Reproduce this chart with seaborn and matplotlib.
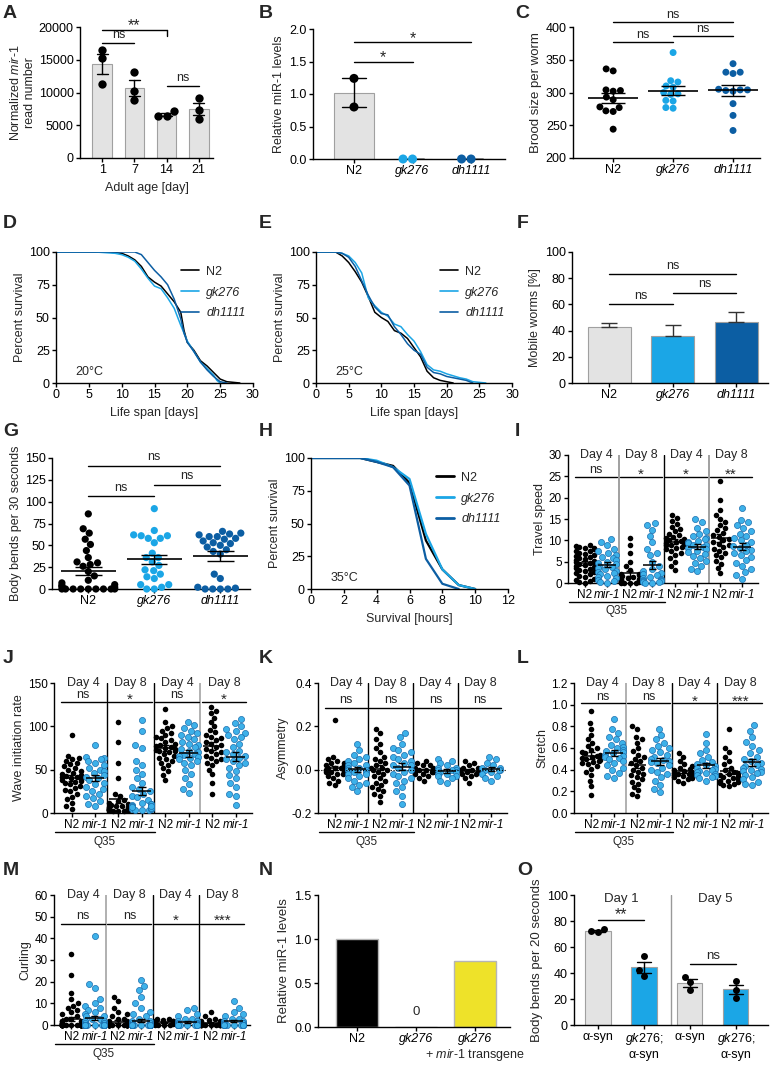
import matplotlib
matplotlib.use('Agg')
import matplotlib.pyplot as plt
import matplotlib.transforms as mtrans
from matplotlib import font_manager
from matplotlib.lines import Line2D
import numpy as np
import pandas as pd
import seaborn as sns

# ---------------- data ----------------
# A - mir-1 reads with age
age_days = ['1', '7', '14', '21']
reads_d1 = [16500, 15200, 11300]
reads_d7 = [13100, 10200, 8800]
reads_d14 = [6400, 7100, 6400]
reads_d21 = [6000, 9200, 7300]

# B - relative miR-1 levels
strains = ['N2', 'gk276', 'dh1111']
mir1_n2 = [1.24, 0.80]
mir1_gk = [0.0, 0.0]
mir1_dh = [0.0, 0.0]

# C - brood size
brood_n2 = [333, 336, 304, 303, 302, 293, 289, 278, 277, 272, 271, 244]
brood_gk = [361, 318, 316, 310, 308, 300, 298, 297, 288, 287, 277, 276]
brood_dh = [344, 331, 331, 329, 305, 304, 304, 303, 302, 283, 265, 242]

# D - life span 20C
ls20_n2_day = [0, 8, 10, 11, 12, 13, 14, 15, 16, 17, 18, 19, 19.5, 20, 21, 22, 23, 24, 25, 26, 28]
ls20_n2_pct = [100, 100, 99, 97, 94, 89, 81, 77, 74, 68, 62, 54, 40, 31, 25, 17, 13, 8, 3, 1, 0]
ls20_gk_day = [0, 6, 9, 10, 11, 12, 13, 14, 15, 16, 17, 18, 19, 20, 21, 22, 23, 24, 24.5, 25]
ls20_gk_pct = [100, 100, 99, 98, 96, 93, 87, 80, 74, 72, 65, 57, 44, 32, 24, 16, 11, 6, 2, 0]
ls20_dh_day = [0, 12, 13, 14, 15, 16, 17, 18, 19, 19.5, 20, 21, 22, 23, 24, 25, 26]
ls20_dh_pct = [100, 100, 98, 92, 86, 81, 75, 64, 49, 38, 31, 24, 16, 10, 5, 1, 0]

# E - life span 25C
ls25_n2_day = [0, 3, 4, 5, 6, 7, 8, 9, 10, 11, 12, 13, 14, 15, 16, 17, 18, 19, 20, 21]
ls25_n2_pct = [100, 100, 97, 92, 85, 77, 66, 54, 50, 47, 40, 38, 34, 27, 20, 9, 4, 2, 1, 0]
ls25_gk_day = [0, 3, 4, 5, 6, 7, 8, 9, 10, 11, 12, 13, 14, 15, 16, 17, 18, 19, 20, 22, 23, 24, 26]
ls25_gk_pct = [100, 100, 99, 97, 92, 84, 65, 59, 54, 51, 45, 43, 37, 32, 24, 14, 10, 9, 7, 4, 3, 1, 0]
ls25_dh_day = [0, 3, 4, 5, 6, 7, 8, 9, 10, 11, 12, 13, 14, 15, 16, 17, 18, 19, 20, 22, 23, 24]
ls25_dh_pct = [100, 100, 99, 96, 89, 78, 67, 58, 53, 52, 43, 37, 30, 25, 22, 12, 8, 7, 5, 3, 2, 0]

# F - mobile worms
mobile_mean = [43, 35.5, 46.5]
mobile_sem = [2.5, 8.5, 8.0]

# G - body bends per 30 s
bends_n2 = [86, 69, 64, 57, 51, 44, 36, 31, 30, 28, 26, 20, 15, 10, 7, 5, 4, 3, 2,
            0, 0, 0, 0, 0, 0, 0, 0, 0]
bends_gk = [92, 67, 62, 61, 61, 58, 58, 53, 41, 36, 36, 31, 27, 22, 21, 17, 14, 12, 5, 5, 2, 0, 0]
bends_dh = [66, 64, 63, 62, 60, 60, 58, 57, 55, 53, 52, 50, 48, 45, 43, 40, 17, 12, 2, 1, 0, 0, 0, 0]

# H - heat stress 35C
hs_n2_h = [0, 3, 4, 5, 6, 7, 8, 9, 10]
hs_n2_pct = [100, 100, 97, 94, 81, 37, 15, 3, 0]
hs_gk_h = [0, 3, 4, 5, 6, 7, 8, 9, 10]
hs_gk_pct = [100, 100, 98, 93, 84, 42, 15, 3, 0]
hs_dh_h = [0, 3, 4, 5, 6, 7, 8, 9]
hs_dh_pct = [100, 100, 97, 93, 79, 23, 4, 0]

# I-M: groups = Q35 day4 N2, Q35 day4 mir-1, Q35 day8 N2, Q35 day8 mir-1,
#               day4 N2, day4 mir-1, day8 N2, day8 mir-1
speed = [
    [8.8, 8.6, 8.5, 8.3, 8.1, 7.9, 7.6, 7.4, 7.1, 6.9, 6.6, 6.3, 6.1, 5.8, 5.6, 5.4, 5.2, 5.0, 4.8,
     4.6, 4.4, 4.2, 4.0, 3.8, 3.6, 3.3, 3.1, 2.9, 2.6, 2.3, 2.0, 1.7, 1.4, 1.0, 0.7, 0.4, 0.2, 0.0],
    [10.2, 9.6, 8.8, 8.0, 7.5, 7.0, 6.6, 6.2, 5.8, 5.4, 5.0, 4.7, 4.4, 4.1, 3.8, 3.5, 3.2, 2.9,
     2.6, 2.3, 2.0, 1.7, 1.4, 1.1, 0.8, 0.5, 0.3, 0.1],
    [10.5, 9.0, 7.0, 5.0, 4.0, 3.0, 2.2, 2.0, 1.8, 1.6, 1.4, 1.2, 1.0, 0.9, 0.8, 0.6, 0.5, 0.4,
     0.3, 0.2, 0.1, 0.1, 0.0, 0.0],
    [14.0, 13.5, 12.5, 11.0, 9.5, 8.0, 7.0, 6.5, 5.0, 4.0, 3.2, 2.8, 2.4, 2.0, 1.8, 1.5, 1.2, 1.0,
     0.8, 0.6, 0.5, 0.4, 0.3, 0.2, 0.1, 0.0],
    [16.0, 15.2, 14.5, 13.8, 13.2, 12.6, 12.1, 11.6, 11.2, 10.8, 10.5, 10.2, 10.0, 9.8, 9.6, 9.4,
     9.2, 9.0, 8.8, 8.5, 8.2, 7.9, 7.5, 7.0, 6.5, 5.8, 5.0, 4.0, 3.0],
    [15.0, 14.2, 13.0, 12.2, 11.5, 11.0, 10.6, 10.2, 9.9, 9.6, 9.3, 9.0, 8.8, 8.5, 8.2, 7.9, 7.6,
     7.2, 6.8, 6.3, 5.8, 5.2, 4.6, 4.0, 3.3, 2.7],
    [24.0, 19.5, 17.0, 16.0, 15.0, 14.3, 13.6, 13.0, 12.4, 11.8, 11.2, 10.8, 10.4, 10.0, 9.6, 9.2,
     8.8, 8.4, 8.0, 7.5, 7.0, 6.5, 6.0, 5.2, 4.5, 3.5, 2.3],
    [17.5, 14.8, 14.2, 13.6, 13.0, 12.3, 11.6, 11.0, 10.5, 10.0, 9.5, 9.0, 8.6, 8.2, 7.8, 7.4, 7.0,
     6.5, 6.0, 5.4, 4.8, 4.0, 3.2, 2.5, 1.8, 1.0],
]
wave = [
    [90, 66, 64, 62, 60, 58, 56, 54, 52, 50, 48, 46, 45, 44, 43, 42, 41, 40, 39, 38, 37, 36, 35,
     33, 31, 29, 27, 25, 22, 19, 16, 12, 8, 5],
    [78, 65, 63, 62, 60, 58, 55, 52, 50, 48, 46, 44, 42, 40, 38, 35, 33, 30, 28, 25, 22, 20, 17,
     14, 10, 8],
    [105, 82, 58, 40, 22, 20, 15, 14, 12, 10, 9, 8, 8, 7, 7, 6, 6, 5, 5, 5, 4, 4, 3, 3, 2, 3, 2,
     2, 4, 5],
    [107, 95, 78, 75, 60, 55, 50, 45, 40, 35, 30, 28, 25, 22, 20, 18, 15, 12, 10, 10, 9, 8, 8, 7,
     7, 6, 6, 5, 5, 4, 3, 4, 5, 6, 7, 8],
    [120, 105, 100, 98, 95, 92, 90, 88, 86, 84, 82, 80, 78, 77, 76, 75, 74, 73, 72, 71, 70, 68,
     66, 64, 62, 60, 58, 55, 52, 48, 44, 38],
    [105, 102, 98, 95, 92, 90, 88, 85, 82, 80, 78, 76, 74, 72, 70, 68, 67, 66, 65, 63, 62, 60,
     58, 55, 50, 45, 40, 33, 28, 23],
    [122, 118, 115, 110, 105, 100, 96, 93, 90, 88, 86, 84, 82, 80, 78, 76, 74, 72, 70, 68, 66,
     64, 62, 60, 58, 55, 50, 45, 35, 22],
    [108, 104, 100, 97, 95, 92, 90, 88, 85, 80, 76, 72, 70, 68, 66, 64, 62, 60, 58, 55, 52, 48,
     44, 40, 35, 30, 22, 20, 9],
]
asym = [
    [0.23, 0.06, 0.05, 0.04, 0.03, 0.03, 0.02, 0.02, 0.01, 0.01, 0.01, 0.0, 0.0, 0.0, 0.0, -0.01,
     -0.01, -0.01, -0.02, -0.02, -0.03, -0.04, -0.05, -0.06, -0.07],
    [0.12, 0.09, 0.07, 0.06, 0.05, 0.04, 0.03, 0.02, 0.02, 0.01, 0.01, 0.0, 0.0, 0.0, -0.01,
     -0.01, -0.02, -0.02, -0.03, -0.04, -0.05, -0.06, -0.07, -0.08, -0.10],
    [0.19, 0.17, 0.14, 0.12, 0.10, 0.08, 0.06, 0.05, 0.04, 0.03, 0.02, 0.01, 0.01, 0.0, 0.0,
     -0.01, -0.02, -0.03, -0.04, -0.05, -0.06, -0.07, -0.08, -0.09, -0.10, -0.11, -0.12, -0.15],
    [0.17, 0.15, 0.12, 0.10, 0.09, 0.08, 0.07, 0.06, 0.05, 0.04, 0.03, 0.02, 0.02, 0.01, 0.0,
     -0.01, -0.02, -0.03, -0.04, -0.05, -0.06, -0.08, -0.10, -0.12, -0.16],
    [0.04, 0.03, 0.02, 0.02, 0.01, 0.01, 0.0, 0.0, 0.0, 0.0, -0.01, -0.01, -0.01, -0.02, -0.02,
     -0.03, -0.04, -0.05],
    [0.05, 0.04, 0.03, 0.02, 0.01, 0.01, 0.0, 0.0, 0.0, -0.01, -0.01, -0.02, -0.02, -0.03, -0.03,
     -0.04, -0.05, -0.06],
    [0.04, 0.03, 0.02, 0.01, 0.01, 0.0, 0.0, 0.0, -0.01, -0.01, -0.02, -0.02, -0.03, -0.04, -0.06],
    [0.06, 0.05, 0.03, 0.02, 0.01, 0.01, 0.0, 0.0, 0.0, -0.01, -0.02, -0.03, -0.04, -0.05],
]
stretch = [
    [0.94, 0.83, 0.78, 0.72, 0.68, 0.65, 0.62, 0.60, 0.58, 0.56, 0.55, 0.54, 0.53, 0.52, 0.51,
     0.50, 0.49, 0.48, 0.47, 0.46, 0.45, 0.43, 0.41, 0.38, 0.35, 0.30, 0.25, 0.17],
    [0.87, 0.78, 0.74, 0.70, 0.68, 0.65, 0.63, 0.61, 0.60, 0.58, 0.57, 0.56, 0.55, 0.54, 0.53,
     0.52, 0.51, 0.50, 0.48, 0.46, 0.44, 0.42, 0.40, 0.37, 0.34, 0.32],
    [0.80, 0.78, 0.70, 0.68, 0.65, 0.60, 0.57, 0.54, 0.52, 0.50, 0.48, 0.46, 0.44, 0.42, 0.40,
     0.38, 0.36, 0.35, 0.33, 0.31, 0.29, 0.27, 0.24, 0.21, 0.18, 0.16],
    [0.78, 0.72, 0.68, 0.65, 0.62, 0.60, 0.58, 0.56, 0.54, 0.52, 0.50, 0.49, 0.48, 0.47, 0.46,
     0.44, 0.42, 0.40, 0.38, 0.36, 0.33, 0.30, 0.26, 0.22, 0.19],
    [0.55, 0.52, 0.48, 0.45, 0.43, 0.42, 0.41, 0.40, 0.39, 0.38, 0.37, 0.37, 0.36, 0.36, 0.35,
     0.35, 0.34, 0.33, 0.32, 0.31, 0.30, 0.28],
    [0.73, 0.65, 0.58, 0.55, 0.52, 0.49, 0.47, 0.45, 0.44, 0.43, 0.42, 0.41, 0.40, 0.39, 0.38,
     0.37, 0.36, 0.35, 0.34, 0.33, 0.32, 0.30],
    [0.78, 0.60, 0.56, 0.52, 0.48, 0.45, 0.42, 0.40, 0.38, 0.37, 0.36, 0.35, 0.34, 0.33, 0.32,
     0.31, 0.30, 0.30, 0.29, 0.28, 0.27, 0.26, 0.25],
    [0.81, 0.76, 0.70, 0.66, 0.62, 0.58, 0.55, 0.52, 0.50, 0.48, 0.46, 0.44, 0.43, 0.42, 0.41,
     0.40, 0.39, 0.38, 0.37, 0.35, 0.33, 0.31, 0.29, 0.27, 0.26],
]
curling = [
    [33, 23, 15, 12, 10, 9, 8, 7, 6, 5, 4, 3, 3, 2, 2, 2, 1, 1, 1, 1, 1] + [0] * 30,
    [41, 19, 17, 12, 10, 9, 8, 7, 6, 5, 4, 4, 3, 3, 2, 2, 2, 1, 1, 1] + [0] * 30,
    [13, 11, 8, 6, 5, 4, 3, 3, 2, 2, 1, 1, 1] + [0] * 25,
    [21, 18, 16, 13, 10, 8, 6, 5, 4, 3, 2, 2, 1, 1] + [0] * 40,
    [3, 3, 2.5, 2, 2, 2, 1.5, 1.5, 1, 1, 1, 1, 0.5, 0.5, 0, 0, 0, 0],
    [8, 7, 5, 4, 3, 3, 2, 2, 2, 1, 1, 1, 1, 0.5, 0.5] + [0] * 12,
    [6, 4, 3, 2.5, 2, 2, 1.5, 1.5, 1, 1, 1, 0.5, 0.5] + [0] * 10,
    [11, 8, 6, 5, 4, 3, 3, 2, 2, 2, 1, 1, 1, 0.5] + [0] * 12,
]

# N - rescue
rescue_level = [1.0, 0.0, 0.75]

# O - alpha-syn body bends per 20 s
syn_d1 = [74, 72, 71.5]
syn_gk_d1 = [53, 42, 38]
syn_d5 = [37, 33, 27]
syn_gk_d5 = [34, 27, 21]

# ---------------- style ----------------
sns.set_style('ticks')
avail = {f.name for f in font_manager.fontManager.ttflist}
NARROW = 'Liberation Sans Narrow' if 'Liberation Sans Narrow' in avail else 'Liberation Sans'
NFAM = [NARROW, 'DejaVu Sans']
plt.rcParams['font.family'] = ['Liberation Sans', 'DejaVu Sans']
plt.rcParams.update({
    'mathtext.fontset': 'custom',
    'mathtext.rm': 'Liberation Sans',
    'mathtext.it': 'Liberation Sans:italic',
    'axes.linewidth': 1.0,
    'axes.edgecolor': 'black',
    'xtick.color': 'black', 'ytick.color': 'black',
    'font.size': 8.5,
})

GRAY = '#e3e3e3'
GRAY_EDGE = '#a0a0a0'
LBLUE = '#1ba6e6'
DBLUE = '#0c5ea3'
MIR = '#3db1e9'
MIR_EDGE = '#1b6fae'
YELLOW = '#eee229'
PAL3 = {'N2': GRAY, 'gk276': LBLUE, 'dh1111': DBLUE}

W, H = 771, 1066
fig = plt.figure(figsize=(W / 100, H / 100), dpi=100)


def add_ax(l, t, r, b):
    return fig.add_axes([l / W, 1 - b / H, (r - l) / W, (b - t) / H])


def clean(ax, fs=9, family=None):
    sns.despine(ax=ax)
    ax.tick_params(labelsize=fs, length=3, width=1, pad=1.5)
    ax.set_xlabel('')
    ax.set_ylabel('')
    if family:
        for lab in ax.get_xticklabels() + ax.get_yticklabels():
            lab.set_family(family)


def letter(x, y, s):
    fig.text(x / W, 1 - y / H, s, fontsize=14, fontweight='bold', va='top', ha='left')


def sig(ax, x1, x2, y, txt, drop=None, fs=9, family=None, pad=0.0):
    ax.plot([x1, x2], [y, y], color='k', lw=1, clip_on=False)
    if drop is not None:
        ax.plot([x2, x2], [y, drop], color='k', lw=1, clip_on=False)
    if set(txt) == {'*'}:
        fs = fs + 2.5
    ax.text((x1 + x2) / 2, y + pad, txt, ha='center', va='bottom', fontsize=fs,
            family=family, clip_on=False)


def mean_sem(ax, x, vals, half=0.38, cap=0.18, lw=1.2):
    v = np.asarray(vals, float)
    m = v.mean()
    se = v.std(ddof=1) / np.sqrt(len(v))
    ax.hlines(m, x - half, x + half, color='k', lw=lw, zorder=6)
    ax.vlines(x, m - se, m + se, color='k', lw=1, zorder=6)
    ax.hlines([m - se, m + se], x - cap, x + cap, color='k', lw=1, zorder=6)


def italic_ticks(ax, which):
    for i, lab in enumerate(ax.get_xticklabels()):
        if i in which:
            lab.set_fontstyle('italic')


def unclip(ax):
    for c in ax.collections:
        c.set_clip_on(False)


# ---------------- A ----------------
axA = add_ax(80, 27, 213, 158)
dfA = pd.DataFrame({'age': np.repeat(age_days, 3),
                    'reads': reads_d1 + reads_d7 + reads_d14 + reads_d21})
sns.barplot(data=dfA, x='age', y='reads', order=age_days, errorbar='se', capsize=0.35,
            color=GRAY, saturation=1, edgecolor=GRAY_EDGE, linewidth=0.8, width=0.62,
            err_kws={'color': 'k', 'linewidth': 1}, ax=axA)
sns.swarmplot(data=dfA, x='age', y='reads', order=age_days, color='k', size=6, ax=axA)
axA.set_xlim(-0.7, 3.45)
axA.set_ylim(0, 20000)
axA.set_yticks(range(0, 20001, 5000))
clean(axA)
axA.set_ylabel('Normalized $\\mathit{mir}$-$\\mathit{1}$\nread number', fontsize=9, labelpad=2)
axA.set_xlabel('Adult age [day]', fontsize=9, labelpad=4)
sig(axA, 0, 2, 19600, '**', drop=18700, pad=-600)
sig(axA, 0, 1, 17500, 'ns', pad=300)
sig(axA, 2, 3, 11000, 'ns', pad=300)
letter(3, 5, 'A')

# ---------------- B ----------------
axB = add_ax(313, 29, 505, 159)
dfB = pd.DataFrame({'strain': ['N2'] * 2 + ['gk276'] * 2 + ['dh1111'] * 2,
                    'level': mir1_n2 + mir1_gk + mir1_dh})
sns.barplot(data=dfB, x='strain', y='level', hue='strain', order=strains, palette=PAL3,
            legend=False, errorbar=('pi', 100), capsize=0.4, saturation=1,
            edgecolor=GRAY_EDGE, linewidth=0.8, width=0.68,
            err_kws={'color': 'k', 'linewidth': 1}, ax=axB)
sns.swarmplot(data=dfB, x='strain', y='level', hue='strain', order=strains, palette=
              {'N2': 'k', 'gk276': LBLUE, 'dh1111': DBLUE}, legend=False, size=6.5, ax=axB)
unclip(axB)
axB.set_xlim(-0.7, 2.58)
axB.set_ylim(0, 2.0)
axB.set_yticks([0, 0.5, 1.0, 1.5, 2.0])
axB.set_yticklabels(['0.0', '0.5', '1.0', '1.5', '2.0'])
clean(axB)
italic_ticks(axB, [1, 2])
axB.set_ylabel('Relative miR-1 levels', fontsize=9, labelpad=3)
sig(axB, 0, 2, 1.8, '*', pad=-0.06)
sig(axB, 0, 1, 1.5, '*', pad=-0.06)
letter(259, 5, 'B')

# ---------------- C ----------------
axC = add_ax(573, 27, 760, 158)
dfC = pd.DataFrame({'strain': ['N2'] * len(brood_n2) + ['gk276'] * len(brood_gk)
                    + ['dh1111'] * len(brood_dh),
                    'brood': brood_n2 + brood_gk + brood_dh})
sns.swarmplot(data=dfC, x='strain', y='brood', hue='strain', order=strains,
              palette={'N2': 'k', 'gk276': LBLUE, 'dh1111': DBLUE}, legend=False,
              size=5, ax=axC)
for i, g in enumerate([brood_n2, brood_gk, brood_dh]):
    mean_sem(axC, i, g, half=0.42, cap=0.2)
axC.set_xlim(-0.67, 2.45)
axC.set_ylim(200, 400)
axC.set_yticks(range(200, 401, 50))
clean(axC)
italic_ticks(axC, [1, 2])
axC.set_ylabel('Brood size per worm', fontsize=9.5, labelpad=3)
sig(axC, 0, 2, 407, 'ns', pad=2)
sig(axC, 1, 2, 386.5, 'ns', pad=2)
sig(axC, 0, 1, 376.5, 'ns', pad=2)
letter(515, 5, 'C')


# ---------------- survival panels ----------------
def survival(ax, curves, xmax, xstep, temp, xlabel, lw, leg_lw):
    rows = []
    for name, xs, ys in curves:
        rows += [(name, a, b) for a, b in zip(xs, ys)]
    df = pd.DataFrame(rows, columns=['strain', 't', 'pct'])
    sns.lineplot(data=df, x='t', y='pct', hue='strain', hue_order=strains,
                 palette={'N2': 'k', 'gk276': LBLUE, 'dh1111': DBLUE},
                 linewidth=lw, legend=False, ax=ax)
    ax.set_xlim(0, xmax)
    ax.set_ylim(0, 100)
    ax.set_xticks(np.arange(0, xmax + 0.1, xstep))
    ax.set_yticks([0, 25, 50, 75, 100])
    clean(ax)
    ax.set_ylabel('Percent survival', fontsize=9, labelpad=2)
    ax.set_xlabel(xlabel, fontsize=9, labelpad=4)
    ax.text(0.1, 0.04, temp, transform=ax.transAxes, fontsize=9, va='bottom')
    handles = [Line2D([], [], color=c, lw=leg_lw) for c in ['k', LBLUE, DBLUE]]
    leg = ax.legend(handles, strains, loc='upper right', bbox_to_anchor=(1.02, 0.98),
                    frameon=False, fontsize=9, handlelength=1.4, handletextpad=0.6,
                    labelspacing=0.7)
    for t in leg.get_texts()[1:]:
        t.set_fontstyle('italic')


axD = add_ax(56, 252, 253, 383)
survival(axD, [('N2', ls20_n2_day, ls20_n2_pct), ('gk276', ls20_gk_day, ls20_gk_pct),
               ('dh1111', ls20_dh_day, ls20_dh_pct)], 30, 5, '20°C', 'Life span [days]', 1.1, 1.2)
letter(3, 215, 'D')

axE = add_ax(316, 252, 512, 383)
survival(axE, [('N2', ls25_n2_day, ls25_n2_pct), ('gk276', ls25_gk_day, ls25_gk_pct),
               ('dh1111', ls25_dh_day, ls25_dh_pct)], 30, 5, '25°C', 'Life span [days]', 1.1, 1.2)
letter(259, 215, 'E')

axH = add_ax(311, 458, 508, 589)
survival(axH, [('N2', hs_n2_h, hs_n2_pct), ('gk276', hs_gk_h, hs_gk_pct),
               ('dh1111', hs_dh_h, hs_dh_pct)], 12, 2, '35°C', 'Survival [hours]', 1.6, 2.0)
letter(259, 423, 'H')

# ---------------- F ----------------
axF = add_ax(572, 252, 768, 383)
dfF = pd.DataFrame({'strain': strains, 'mobile': mobile_mean})
sns.barplot(data=dfF, x='strain', y='mobile', hue='strain', order=strains, palette=PAL3,
            legend=False, errorbar=None, saturation=1, width=0.68, linewidth=0.8,
            edgecolor=GRAY_EDGE, ax=axF)
axF.errorbar(range(3), mobile_mean, yerr=[[0, 0, 0], mobile_sem], fmt='none',
             ecolor='#333333', elinewidth=1, capsize=5.5, capthick=1)
axF.set_xlim(-0.59, 2.5)
axF.set_ylim(0, 100)
axF.set_yticks(range(0, 101, 20))
clean(axF)
italic_ticks(axF, [1, 2])
axF.set_ylabel('Mobile worms [%]', fontsize=9, labelpad=3)
sig(axF, 0, 2, 83, 'ns', pad=2)
sig(axF, 1, 2, 69, 'ns', pad=2)
sig(axF, 0, 1, 60, 'ns', pad=2)
letter(517, 215, 'F')

# ---------------- G ----------------
axG = add_ax(52, 458, 250, 589)
dfG = pd.DataFrame({'strain': ['N2'] * len(bends_n2) + ['gk276'] * len(bends_gk)
                    + ['dh1111'] * len(bends_dh),
                    'bends': bends_n2 + bends_gk + bends_dh})
sns.swarmplot(data=dfG, x='strain', y='bends', hue='strain', order=strains,
              palette={'N2': 'k', 'gk276': LBLUE, 'dh1111': DBLUE}, legend=False,
              size=5.2, ax=axG, warn_thresh=1)
unclip(axG)
for i, g in enumerate([bends_n2, bends_gk, bends_dh]):
    mean_sem(axG, i, g, half=0.42, cap=0.2)
axG.set_xlim(-0.55, 2.45)
axG.set_ylim(0, 150)
axG.set_yticks(range(0, 151, 25))
clean(axG)
italic_ticks(axG, [1, 2])
axG.set_ylabel('Body bends per 30 seconds', fontsize=9, labelpad=2)
sig(axG, 0, 2, 141, 'ns', pad=3)
sig(axG, 1, 2, 119.5, 'ns', pad=3)
sig(axG, 0, 1, 106, 'ns', pad=3)
letter(3, 423, 'G')


# ---------------- I - M ----------------
def section_panel(ax, groups, ylim, yticks, ylabels, ylabel, stars, star_y, line_y,
                  seps, fs=8.5, zero_line=False, n_size=4.0, m_size=4.4):
    order = ['g%d' % i for i in range(8)]
    rows = [(order[i], 'N2' if i % 2 == 0 else 'mir-1', v)
            for i, g in enumerate(groups) for v in g]
    df = pd.DataFrame(rows, columns=['grp', 'strain', 'val'])
    sns.swarmplot(data=df[df.strain == 'N2'], x='grp', y='val', order=order, color='k',
                  size=n_size, linewidth=0, ax=ax, warn_thresh=1)
    sns.swarmplot(data=df[df.strain == 'mir-1'], x='grp', y='val', order=order, color=MIR,
                  edgecolor=MIR_EDGE, linewidth=0.5, size=m_size, ax=ax, warn_thresh=1)
    unclip(ax)
    for i, g in enumerate(groups):
        mean_sem(ax, i, g, half=0.4, cap=0.16, lw=1.1)
    if zero_line:
        ax.axhline(0, color='k', lw=0.8, ls=(0, (1, 1.5)), zorder=7)
    for x, c in zip([1.5, 3.5, 5.5], seps):
        ax.axvline(x, color=c, lw=1.0 if c == 'k' else 1.3, zorder=1)
    ax.set_xlim(-0.75, 7.7)
    ax.set_ylim(ylim)
    ax.set_yticks(yticks)
    ax.set_yticklabels(ylabels)
    ax.set_xticks(range(8))
    ax.set_xticklabels(['N2', 'mir-1'] * 4)
    clean(ax, fs=fs, family=NFAM)
    italic_ticks(ax, [1, 3, 5, 7])
    ax.set_ylabel(ylabel, fontsize=fs + 0.5, labelpad=2, family=NFAM)
    tr = mtrans.blended_transform_factory(ax.transData, ax.transAxes)
    for k, (day, st) in enumerate(zip(['Day 4', 'Day 8', 'Day 4', 'Day 8'], stars)):
        cx = 2 * k + 0.5
        ax.text(cx, 1.0, day, transform=tr, ha='center', va='center', fontsize=fs + 0.5,
                family=NFAM)
        ax.plot([cx - 0.95, cx + 0.95], [line_y, line_y], transform=tr, color='k', lw=1,
                clip_on=False)
        if set(st) == {'*'}:
            ax.text(cx, star_y - 0.035, st, transform=tr, ha='center', va='center',
                    fontsize=fs + 2.5, family=NFAM)
        else:
            ax.text(cx, star_y, st, transform=tr, ha='center', va='center',
                    fontsize=fs + 0.5, family=NFAM)
    ax.plot([-0.7, 3.55], [-0.145, -0.145], transform=tr, color='k', lw=1, clip_on=False)
    ax.text(1.4, -0.22, 'Q35', transform=tr, ha='center', va='center', fontsize=fs,
            family=NFAM)


axI = add_ax(568, 455, 758, 583)
section_panel(axI, speed, (0, 30), range(0, 31, 5), [str(v) for v in range(0, 31, 5)],
              'Travel speed', ['ns', '*', '*', '**'], 0.88, 0.83, ['#999999', 'k', '#999999'])
letter(515, 423, 'I')

axJ = add_ax(54, 683, 252, 813)
section_panel(axJ, wave, (0, 150), [0, 50, 100, 150], ['0', '50', '100', '150'],
              'Wave initiation rate', ['ns', '*', 'ns', '*'], 0.905, 0.855, ['k', 'k', '#aaaaaa'])
letter(3, 650, 'J')

axK = add_ax(318, 683, 507, 813)
section_panel(axK, asym, (-0.2, 0.4), [-0.2, 0.0, 0.2, 0.4], ['-0.2', '0.0', '0.2', '0.4'],
              'Asymmetry', ['ns', 'ns', 'ns', 'ns'], 0.87, 0.81, ['k', 'k', 'k'], zero_line=True)
letter(259, 650, 'K')

axL = add_ax(574, 683, 768, 813)
section_panel(axL, stretch, (0, 1.2), [0, 0.2, 0.4, 0.6, 0.8, 1.0, 1.2],
              ['0.0', '0.2', '0.4', '0.6', '0.8', '1.0', '1.2'],
              'Stretch', ['ns', 'ns', '*', '***'], 0.89, 0.85, ['#aaaaaa', 'k', 'k'])
letter(517, 650, 'L')

axM = add_ax(54, 895, 250, 1025)
section_panel(axM, curling, (0, 60), range(0, 61, 10), [str(v) for v in range(0, 61, 10)],
              'Curling', ['ns', 'ns', '*', '***'], 0.84, 0.78, ['#aaaaaa', 'k', 'k'])
letter(3, 862, 'M')

# ---------------- N ----------------
axN = add_ax(318, 895, 510, 1027)
rescue_names = ['N2', 'gk276', 'gk276 + mir-1']
dfN = pd.DataFrame({'strain': rescue_names, 'level': rescue_level})
sns.barplot(data=dfN, x='strain', y='level', hue='strain', order=rescue_names,
            palette={'N2': 'k', 'gk276': 'k', 'gk276 + mir-1': YELLOW}, legend=False,
            errorbar=None, saturation=1, width=0.71, linewidth=1, edgecolor='#b5b5b5', ax=axN)
axN.text(1, 0.1, '0', ha='center', va='bottom', fontsize=9.5, family=NFAM)
axN.set_xlim(-0.66, 2.6)
axN.set_ylim(0, 1.5)
axN.set_yticks([0, 0.5, 1.0, 1.5])
axN.set_yticklabels(['0.0', '0.5', '1.0', '1.5'])
axN.set_xticks(range(3))
axN.set_xticklabels(['N2', 'gk276', 'gk276'])
clean(axN, fs=9, family=NFAM)
italic_ticks(axN, [1, 2])
trN = mtrans.blended_transform_factory(axN.transData, axN.transAxes)
axN.text(2, -0.215, '+ $\\mathit{mir}$-$\\mathit{1}$ transgene', transform=trN,
         ha='center', va='center', fontsize=9, family=NFAM)
axN.set_ylabel('Relative miR-1 levels', fontsize=9.5, labelpad=3, family=NFAM)
letter(259, 862, 'N')

# ---------------- O ----------------
axO = add_ax(574, 895, 768, 1025)
o_groups = ['syn_d1', 'gk_d1', 'syn_d5', 'gk_d5']
dfO = pd.DataFrame({'grp': np.repeat(o_groups, 3),
                    'bends': syn_d1 + syn_gk_d1 + syn_d5 + syn_gk_d5})
o_pal = {'syn_d1': GRAY, 'gk_d1': LBLUE, 'syn_d5': GRAY, 'gk_d5': LBLUE}
sns.barplot(data=dfO, x='grp', y='bends', hue='grp', order=o_groups, palette=o_pal,
            legend=False, errorbar='se', capsize=0.3, saturation=1, width=0.55,
            edgecolor=GRAY_EDGE, linewidth=0.8, err_kws={'color': 'k', 'linewidth': 1}, ax=axO)
sns.swarmplot(data=dfO, x='grp', y='bends', order=o_groups, color='k', size=5, ax=axO)
axO.axvline(1.6, color='#999999', lw=1)
axO.set_xlim(-0.52, 3.7)
axO.set_ylim(0, 100)
axO.set_yticks(range(0, 101, 20))
axO.set_xticks(range(4))
axO.set_xticklabels(['α-syn', '$\\mathit{gk276}$;\nα-syn', 'α-syn', '$\\mathit{gk276}$;\nα-syn'])
clean(axO, fs=9, family=NFAM)
axO.set_ylabel('Body bends per 20 seconds', fontsize=9.5, labelpad=3, family=NFAM)
axO.text(0.5, 97, 'Day 1', ha='center', va='center', fontsize=9.5, family=NFAM)
axO.text(2.55, 97, 'Day 5', ha='center', va='center', fontsize=9.5, family=NFAM)
sig(axO, 0, 1, 81, '**', fs=9, family=NFAM, pad=-2)
sig(axO, 2, 3, 47, 'ns', fs=9.5, family=NFAM, pad=1.5)
letter(517, 862, 'O')

fig.savefig('out.png', dpi=100)
